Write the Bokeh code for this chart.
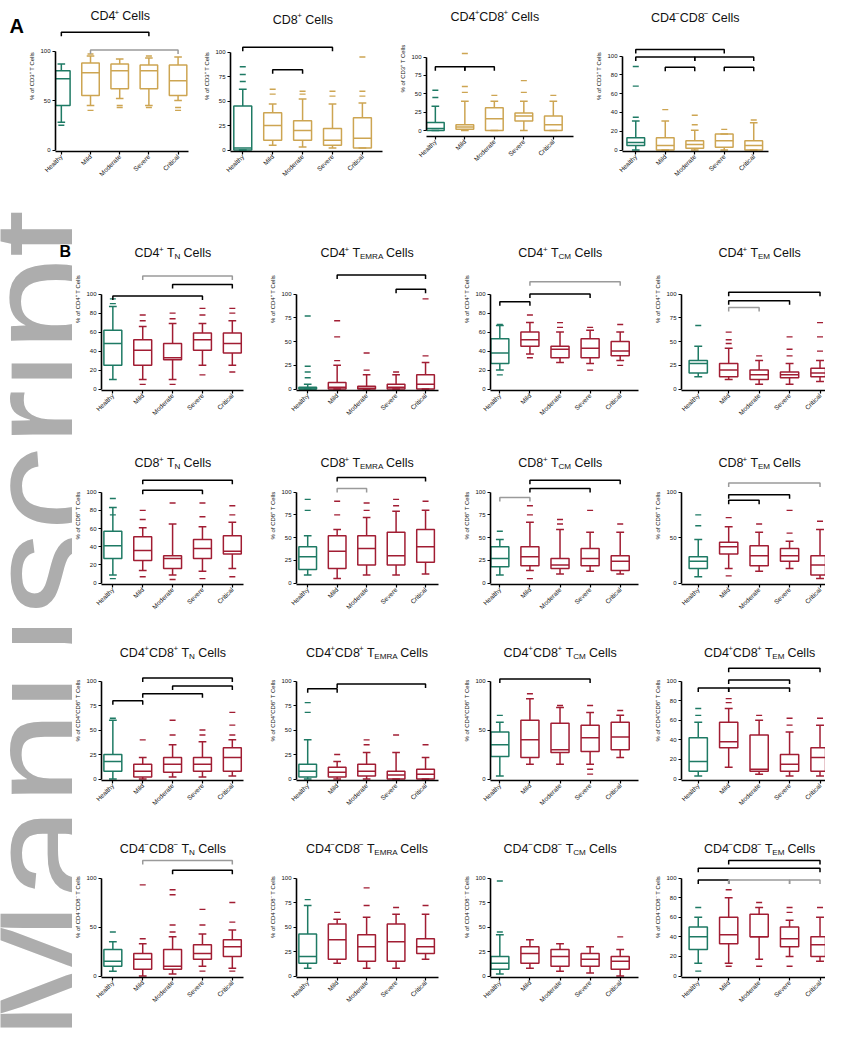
import math
from bokeh.plotting import figure
from bokeh.layouts import row, column
from bokeh.models import Range1d, FixedTicker, ColumnDataSource
from bokeh.core.properties import value
from bokeh.embed import file_html
from bokeh.resources import INLINE

# ---------------- data ----------------
GROUPS = ["Healthy", "Mild", "Moderate", "Severe", "Critical"]

PANEL_IDS = ["A1", "A2", "A3", "A4",
             "B11", "B12", "B13", "B14",
             "B21", "B22", "B23", "B24",
             "B31", "B32", "B33", "B34",
             "B41", "B42", "B43", "B44"]

LOW = [
    [28, 45, 52, 45, 50], [0, 5, 3, 2, 2], [0, 0, 0, 0, 0], [0, 0, 0, 0, 0],
    [10, 10, 10, 25, 25], [0, 0, 0, 0, 0], [20, 37, 28, 27, 30], [13, 10, 5, 5, 8],
    [9, 14, 9, 13, 16], [9, 5, 9, 9, 10], [9, 14, 10, 13, 10], [7, 16, 13, 16, 5],
    [0, 0, 2, 2, 3], [0, 0, 0, 0, 0], [3, 15, 15, 15, 22], [3, 12, 5, 3, 3],
    [5, 0, 2, 10, 8], [8, 13, 8, 8, 17], [2, 8, 5, 3, 0], [13, 13, 17, 20, 15],
]
Q1 = [
    [45, 55, 62, 62, 55], [0, 10, 10, 5, 2], [0, 2, 0, 13, 0], [5, 0, 2, 3, 0],
    [25, 25, 31, 41, 38], [0, 0, 0, 0, 0], [27, 45, 33, 33, 35], [17, 13, 10, 12, 13],
    [27, 25, 16, 27, 32], [15, 16, 20, 20, 23], [18, 19, 16, 19, 14], [16, 32, 19, 24, 9],
    [8, 2, 7, 8, 8], [2, 2, 3, 0, 0], [23, 22, 27, 28, 30], [8, 32, 8, 8, 8],
    [10, 7, 7, 17, 20], [13, 17, 15, 15, 23], [7, 13, 10, 10, 7], [27, 33, 40, 30, 20],
]
MED = [
    [72, 78, 80, 80, 70], [2, 25, 20, 10, 12], [3, 5, 16, 20, 8], [8, 5, 6, 10, 5],
    [48, 41, 33, 52, 48], [0, 2, 1, 2, 5], [38, 52, 42, 43, 40], [27, 20, 15, 15, 17],
    [41, 36, 27, 38, 35], [29, 35, 38, 30, 40], [27, 29, 20, 27, 24], [24, 40, 30, 30, 20],
    [18, 8, 15, 15, 22], [8, 7, 8, 4, 5], [35, 40, 30, 42, 43], [18, 38, 10, 15, 22],
    [15, 17, 10, 23, 30], [20, 37, 30, 35, 30], [13, 23, 20, 17, 15], [40, 42, 40, 38, 32],
]
Q3 = [
    [80, 88, 87, 86, 86], [45, 38, 30, 22, 33], [11, 8, 31, 24, 20], [13, 13, 10, 17, 10],
    [62, 52, 48, 59, 59], [2, 7, 3, 5, 15], [53, 60, 45, 53, 50], [30, 27, 20, 18, 22],
    [57, 51, 30, 48, 52], [40, 52, 52, 56, 59], [40, 40, 27, 38, 30], [29, 45, 41, 38, 30],
    [25, 15, 22, 22, 32], [15, 12, 15, 8, 10], [48, 60, 57, 55, 58], [42, 58, 45, 25, 32],
    [27, 23, 27, 32, 37], [43, 53, 42, 53, 38], [20, 30, 27, 23, 20], [50, 60, 63, 50, 40],
]
HIGH = [
    [87, 95, 92, 93, 94], [62, 47, 52, 47, 48], [33, 40, 40, 40, 40], [31, 31, 21, 17, 29],
    [87, 66, 69, 69, 72], [5, 25, 15, 15, 28], [67, 70, 60, 62, 60], [45, 43, 30, 27, 30],
    [83, 61, 65, 62, 67], [52, 59, 72, 79, 80], [48, 67, 59, 56, 56], [48, 62, 56, 46, 59],
    [60, 22, 35, 38, 40], [40, 18, 27, 27, 22], [58, 82, 73, 68, 65], [58, 72, 60, 48, 55],
    [35, 33, 40, 43, 47], [72, 58, 60, 63, 63], [42, 37, 33, 30, 27], [60, 80, 70, 57, 60],
]
OUTLIERS = [
    [[25], [40, 97], [43, 45], [43, 95], [40, 43]],
    [[70, 77, 85], [57, 62], [57, 60], [55, 60], [55, 60, 95]],
    [[45, 55], [52, 60, 105], [48], [52, 68], [48]],
    [[68, 89, 35], [43], [27, 37], [22], [32]],
    [[90, 95], [72, 78, 5], [74, 80, 5], [78, 85, 15], [80, 85, 18]],
    [[12, 18, 24, 77], [30, 55, 72], [20, 38], [18], [35, 95]],
    [[15, 68], [78, 33], [65, 70], [20, 65], [25, 68]],
    [[67], [48, 52, 60], [35], [35, 42, 55], [40, 55, 70]],
    [[93, 75, 5], [80, 70, 7], [88, 4], [73, 88, 5], [85, 75, 7]],
    [[80, 92], [75, 90], [80, 88], [85, 92], [90]],
    [[57], [75, 85, 5], [65, 70], [80], [65]],
    [[63, 75], [72, 8], [65], [55, 80], [68]],
    [[62], [40], [45, 60], [45, 50], [45, 55, 68]],
    [[68, 78], [25], [35, 40], [45], [35]],
    [[65], [87], [75], [75, 10, 5], [70]],
    [[65, 72], [82, 78], [65], [62, 55], [62]],
    [[45], [93, 38], [88, 83, 52, 45], [52, 68, 5], [55, 75, 5]],
    [[78], [65], [72, 90], [70], [72]],
    [[45, 97], [], [], [], [40]],
    [[70, 5], [88, 10], [75, 10], [65, 70, 10], [70]],
]
# (group i, group j, level, colour code)
BRACKETS = [
    [(0, 3, 119, "k"), (1, 4, 101, "g")],
    [(0, 3, 105, "k"), (1, 2, 82, "k")],
    [(0, 1, 87, "k"), (1, 2, 87, "k")],
    [(0, 3, 107, "k"), (0, 2, 99, "k"), (2, 4, 99, "k"), (1, 2, 88, "k"), (3, 4, 88, "k")],
    [(0, 3, 98, "k"), (2, 4, 110, "k"), (1, 4, 119, "g")],
    [(1, 4, 120, "k"), (3, 4, 105, "k")],
    [(0, 1, 92, "k"), (1, 3, 100, "k"), (1, 4, 113, "g")],
    [(1, 4, 102, "k"), (1, 3, 93, "k"), (1, 2, 86, "g")],
    [(1, 4, 113, "k"), (1, 3, 102, "k")],
    [(1, 4, 116, "k"), (1, 2, 104, "g")],
    [(0, 1, 94, "g"), (1, 3, 104, "k"), (1, 4, 113, "k")],
    [(1, 4, 110, "g"), (1, 3, 97, "k"), (1, 2, 91, "k")],
    [(0, 1, 80, "k"), (1, 3, 87, "k"), (2, 4, 95, "k"), (1, 4, 103, "k")],
    [(0, 1, 92, "k"), (1, 4, 97, "k")],
    [(0, 3, 102, "k")],
    [(0, 1, 93, "k"), (1, 3, 93, "k"), (1, 3, 101, "k"), (1, 4, 113, "k")],
    [(2, 4, 108, "k"), (1, 4, 118, "g")],
    [],
    [],
    [(0, 1, 98, "k"), (1, 3, 98, "g"), (3, 4, 98, "g"), (0, 4, 110, "k"), (1, 4, 118, "k")],
]
YTICKS = [
    [0, 50, 100], [0, 25, 50, 75, 100], [0, 25, 50, 75, 100], [0, 20, 40, 60, 80, 100],
    [0, 20, 40, 60, 80, 100], [0, 25, 50, 75, 100], [0, 20, 40, 60, 80, 100], [0, 25, 50, 75, 100],
    [0, 20, 40, 60, 80, 100], [0, 25, 50, 75, 100], [0, 25, 50, 75, 100], [0, 50, 100],
    [0, 25, 50, 75, 100], [0, 25, 50, 75, 100], [0, 50, 100], [0, 20, 40, 60, 80, 100],
    [0, 50, 100], [0, 25, 50, 75, 100], [0, 25, 50, 75, 100], [0, 20, 40, 60, 80, 100],
]
# cell population prefixes (text, kind)
POPS = [
    [("CD4", "n"), ("+", "sup")],
    [("CD8", "n"), ("+", "sup")],
    [("CD4", "n"), ("+", "sup"), ("CD8", "n"), ("+", "sup")],
    [("CD4", "n"), ("\u2212", "sup"), ("CD8", "n"), ("\u2212", "sup")],
]
POP_LABELS = ["CD4\u207a", "CD8\u207a", "CD4\u207aCD8\u207a", "CD4\u207bCD8\u207b"]
SUBSETS = ["N", "EMRA", "CM", "EM"]
WATERMARK = "Manuscript"

# ---------------- style ----------------
FONT = "Liberation Sans"
TEAL = "#1e7a64"
GOLD = "#cda552"
RED = "#a11d33"
GREY = "#9a9a9a"

CW = {'C': .722, 'D': .722, '4': .556, '8': .556, '+': .584, '\u2212': .584, ' ': .278,
      'T': .611, 'e': .556, 'l': .222, 's': .5, 'N': .722, 'E': .667, 'M': .833,
      'R': .722, 'A': .667}


def text_w(s, size):
    return sum(CW.get(c, 0.56) for c in s) * size


def draw_title(p, parts, xc, yv, ppx, ppu, size):
    pieces = []
    total = 0.0
    for txt, kind in parts:
        fs = size * (0.65 if kind != "n" else 1.0)
        lead = 0.0
        if txt.startswith(" "):
            lead = text_w(" ", fs)
            txt = txt.lstrip(" ")
        w = text_w(txt, fs)
        dy = {"n": 0.0, "sup": 0.3 * size, "sub": -0.3 * size}[kind]
        pieces.append((txt, fs, lead, w, dy))
        total += lead + w
    x = -total / 2.0
    xs, ys, ts, fss = [], [], [], []
    for txt, fs, lead, w, dy in pieces:
        x += lead
        xs.append(xc + x / ppx)
        ys.append(yv + dy / ppu)
        ts.append(txt)
        fss.append("%.1fpx" % fs)
        x += w
    src = ColumnDataSource(dict(x=xs, y=ys, t=ts, fs=fss))
    p.text(x="x", y="y", text="t", source=src, text_font_size="fs",
           text_font=value(FONT), text_align="left", text_baseline="middle",
           text_color="#111111")


def make_fig(k, width, height, bl, br, bb, xs, ys, ppx, ppu, title_parts, title_v,
             rest_color, ylabel):
    fw = width - bl - br
    fh = height - bb
    xe = xs + fw / ppx
    ye = ys + fh / ppu
    p = figure(width=width, height=height, x_range=Range1d(xs, xe), y_range=Range1d(ys, ye),
               output_backend="svg", toolbar_location=None, title=None,
               min_border_left=bl, min_border_right=br, min_border_bottom=bb, min_border_top=0)
    p.frame_align = False
    p.xgrid.visible = False
    p.ygrid.visible = False
    p.outline_line_color = None
    p.background_fill_color = "white"
    p.border_fill_color = "white"

    xpos = [1, 2, 3, 4, 5]
    p.xaxis.ticker = FixedTicker(ticks=xpos)
    p.xaxis.major_label_overrides = {i + 1: g for i, g in enumerate(GROUPS)}
    p.xaxis.major_label_orientation = math.pi / 4
    p.xaxis.major_label_text_font_size = "6.5px"
    p.xaxis.major_label_text_font = FONT
    p.xaxis.major_label_text_color = "#111111"
    p.xaxis.major_label_standoff = 1
    p.xaxis.major_tick_out = 3
    p.xaxis.major_tick_in = 0
    p.xaxis.minor_tick_line_color = None
    p.xaxis.axis_line_width = 1.6
    p.xaxis.major_tick_line_width = 1.2

    p.yaxis.ticker = FixedTicker(ticks=YTICKS[k])
    p.yaxis.bounds = (0, 100)
    p.yaxis.major_label_text_font_size = "6px"
    p.yaxis.major_label_text_font = FONT
    p.yaxis.major_label_text_color = "#111111"
    p.yaxis.major_label_standoff = 2
    p.yaxis.major_tick_out = 3
    p.yaxis.major_tick_in = 0
    p.yaxis.minor_tick_line_color = None
    p.yaxis.axis_line_width = 1.6
    p.yaxis.major_tick_line_width = 1.2
    p.yaxis.axis_label = ylabel
    p.yaxis.axis_label_text_font_size = "6px"
    p.yaxis.axis_label_text_font = FONT
    p.yaxis.axis_label_text_color = "#111111"
    p.yaxis.axis_label_text_font_style = "normal"
    p.yaxis.axis_label_standoff = 2

    cols = [TEAL] + [rest_color] * 4
    hw, cw = 0.3, 0.13
    src = ColumnDataSource(dict(
        x=xpos, lo=LOW[k], q1=Q1[k], med=MED[k], q3=Q3[k], hi=HIGH[k], c=cols,
        xl=[v - hw for v in xpos], xr=[v + hw for v in xpos],
        cl=[v - cw for v in xpos], cr=[v + cw for v in xpos]))
    lw = 1.5
    p.vbar(x="x", width=2 * hw, bottom="q1", top="q3", fill_color=None,
           line_color="c", line_width=lw, source=src)
    p.segment("xl", "med", "xr", "med", line_color="c", line_width=lw, source=src)
    p.segment("x", "q3", "x", "hi", line_color="c", line_width=lw, source=src)
    p.segment("x", "q1", "x", "lo", line_color="c", line_width=lw, source=src)
    p.segment("cl", "hi", "cr", "hi", line_color="c", line_width=lw, source=src)
    p.segment("cl", "lo", "cr", "lo", line_color="c", line_width=lw, source=src)

    ox, oy, oc = [], [], []
    for gi, vals in enumerate(OUTLIERS[k]):
        for v in vals:
            ox.append(gi + 1)
            oy.append(v)
            oc.append(cols[gi])
    if ox:
        p.scatter(x=ox, y=oy, marker="dash", size=6, line_color=oc, line_width=1.4)

    bxs, bys, bcs = [], [], []
    drop = 4.0 / ppu
    for i, j, lvl, cc in BRACKETS[k]:
        bxs.append([i + 1, i + 1, j + 1, j + 1])
        bys.append([lvl - drop, lvl, lvl, lvl - drop])
        bcs.append("black" if cc == "k" else GREY)
    if bxs:
        p.multi_line(xs=bxs, ys=bys, line_color=bcs, line_width=1.5)

    draw_title(p, title_parts, 3.0, title_v, ppx, ppu, 12.5)
    return p


def blank(width, height):
    f = figure(width=width, height=height, x_range=Range1d(0, width), y_range=Range1d(0, height),
               output_backend="svg", toolbar_location=None, title=None, min_border=0,
               x_axis_location=None, y_axis_location=None)
    f.frame_align = False
    f.xgrid.visible = False
    f.ygrid.visible = False
    f.outline_line_color = None
    return f


# ---------------- panel A ----------------
A_H = 207
A_W = [175, 196, 196, 232]
A_BL = [23, 26, 24, 24]
A_BR = [13, 15, 20, 57]
A_BB = [56, 56, 71, 56]
A_XS = [0.8, 0.59, 0.7, 0.55]
A_YS = [-1.5, -1.5, -8, -1.5]
A_PPU = [0.99, 0.98, 0.735, 0.94]
A_TV = [135, 133, 155, 141]

a_letter = blank(26, A_H)
a_letter.text(x=[9], y=[A_H - 25], text=["A"], text_font=value(FONT), text_font_size="20px",
              text_font_style="bold", text_color="black", text_align="left",
              text_baseline="middle")

a_figs = [a_letter]
for c in range(4):
    parts = POPS[c] + [(" Cells", "n")]
    a_figs.append(make_fig(c, A_W[c], A_H, A_BL[c], A_BR[c], A_BB[c], A_XS[c], A_YS[c],
                           30.5, A_PPU[c], parts, A_TV[c], GOLD, "% of CD3\u207a T Cells"))

# ---------------- panel B ----------------
B_W = [195, 194, 191, 173]
B_BL = [26, 24, 27, 24]
B_BR = [24, 23, 14, 0]
B_XS = [0.62, 0.62, 0.69, 0.45]
B_PPX = [30.5, 30.5, 30.5, 31.5]
B_H = [239, 194, 196, 197]
B_PPU = [0.95, 0.91, 0.98, 0.98]
B_TV = [143, 132, 129, 130]

b_rows = []
for r in range(4):
    figs = []
    for c in range(4):
        k = 4 + r * 4 + c
        parts = POPS[r] + [(" T", "n"), (SUBSETS[c], "sub"), (" Cells", "n")]
        figs.append(make_fig(k, B_W[c], B_H[r], B_BL[c], B_BR[c], 56, B_XS[c], -1.5,
                             B_PPX[c], B_PPU[r], parts, B_TV[r], RED,
                             "% of " + POP_LABELS[r] + " T Cells"))
    b_rows.append(row(*figs))

# watermark strip with panel letter B
WM_H = sum(B_H)
wm = blank(72, WM_H)
wm.text(x=[42], y=[-8], text=[WATERMARK], angle=math.pi / 2, text_font=value(FONT),
        text_font_size="170px", text_color="#adadad", text_align="left",
        text_baseline="alphabetic")
wm.text(x=[59], y=[WM_H - 44], text=["B"], text_font=value(FONT), text_font_size="16px",
        text_font_style="bold", text_color="black", text_align="left",
        text_baseline="alphabetic")

layout = column(row(*a_figs), row(wm, column(*b_rows)))

open("out.html", "w").write(file_html(layout, INLINE))
